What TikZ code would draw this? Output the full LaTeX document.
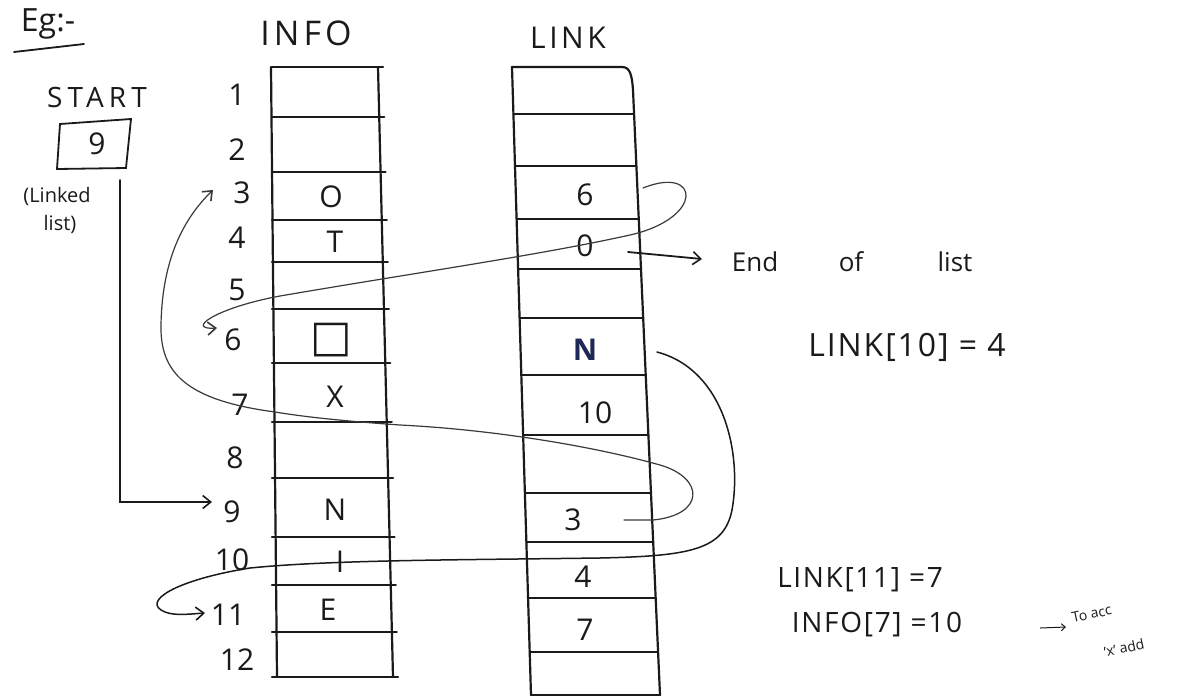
\documentclass[tikz,border=0pt]{standalone}
\usepackage{fontspec}
\setmainfont{Open Sans}
\newfontfamily\symfont{DejaVu Sans}
\usetikzlibrary{arrows.meta}
\definecolor{ink}{HTML}{1A1A1A}
\definecolor{pencil}{HTML}{3A3A3A}
\definecolor{blueink}{HTML}{1E2A55}
\begin{document}
\begin{tikzpicture}[x=1pt,y=-1pt,
  tbl/.style={line width=2.2pt, draw=ink, line cap=round},
  pen/.style={line width=1.8pt, draw=ink, line cap=round},
  thin/.style={line width=1.2pt, draw=pencil, line cap=round},
  barb/.style={-{Straight Barb[length=8pt,width=13pt,line width=1.6pt]}},
  idx/.style={font=\fontsize{30}{30}\selectfont, text=ink, inner sep=0pt},
  val/.style={font=\fontsize{30}{30}\selectfont, text=ink, inner sep=0pt},
  head/.style={font=\fontsize{34}{34}\selectfont\addfontfeature{LetterSpace=12}, text=ink, inner sep=0pt},
  note/.style={font=\fontsize{32}{32}\selectfont\addfontfeature{LetterSpace=6}, text=ink, inner sep=0pt},
  small/.style={font=\fontsize{26}{26}\selectfont, text=ink, inner sep=0pt},
  tiny/.style={font=\fontsize{14}{14}\selectfont, text=ink, inner sep=0pt}]
\useasboundingbox (0,0) rectangle (1184,697);
\fill[white] (0,0) rectangle (1184,697);

% ---- headings
\node[font=\fontsize{32}{32}\selectfont, text=ink, inner sep=0pt] (eg) at (48,24) {Eg:-};
\draw[pen] (14,52) -- (84,44);
\node[head] (infohead) at (306,33) {INFO};
\node[head, font=\fontsize{30}{30}\selectfont\addfontfeature{LetterSpace=12}] (linkhead) at (568,38) {LINK};

% ---- START box
\node[font=\fontsize{28}{28}\selectfont\addfontfeature{LetterSpace=18}, text=ink, inner sep=0pt] (start) at (97,97) {START};
\draw[pen] (60,124) -- (131,119) -- (126,168) -- (57,169) -- cycle;
\node[val] (startval) at (97,144) {9};
\node[font=\fontsize{20}{20}\selectfont, text=ink, inner sep=0pt] (ll1) at (57,196) {(Linked};
\node[font=\fontsize{20}{20}\selectfont, text=ink, inner sep=0pt] (ll2) at (60,224) {list)};

% ---- INFO table
\draw[tbl] (271,67) -- (277,677);
\draw[tbl] (378,67) -- (393,677);
\foreach \y in {67,117,172,220,262,309,363,422,478,537,585,632,677}
  \draw[tbl] (272,\y) -- ({380+15*(\y-67)/610+3},\y);

% ---- LINK table
\draw[tbl] (512,67) -- (531,695);
\draw[tbl] (512,67) -- (622,67) .. controls (630,67) and (632,75) .. (633,90) -- (660,695);
\foreach \y in {114,166,219,269,318,375,435,493,542,598,652,695}
  \draw[tbl] ({512+19*(\y-67)/628},\y) -- ({633+27*(\y-90)/605},\y);

% ---- index numbers
\node[idx] (i1) at (237,95) {1};
\node[idx] (i2) at (237,150) {2};
\node[idx] (i3) at (242,193) {3};
\node[idx] (i4) at (237,238) {4};
\node[idx] (i5) at (237,290) {5};
\node[idx] (i6) at (233,340) {6};
\node[idx] (i7) at (240,405) {7};
\node[idx] (i8) at (235,458) {8};
\node[idx] (i9) at (232,512) {9};
\node[idx] (i10) at (232,560) {10};
\node[idx] (i11) at (228,615) {11};
\node[idx] (i12) at (237,660) {12};

% ---- INFO values
\node[val] (v3) at (331,197) {O};
\node[val] (v4) at (335,242) {T};
\node[val, font=\fontsize{44}{44}\selectfont\symfont] (v6) at (331,340) {□};
\node[val] (v7) at (335,397) {X};
\node[val] (v9) at (335,510) {N};
\node[val] (v10) at (340,562) {I};
\node[val] (v11) at (328,610) {E};

% ---- LINK values
\node[val] (l3) at (585,195) {6};
\node[val] (l4) at (585,246) {0};
\node[val, font=\fontsize{30}{30}\selectfont\bfseries, text=blueink] (l6) at (585,350) {N};
\node[val] (l7) at (595,413) {10};
\node[val] (l9) at (573,520) {3};
\node[val] (l10) at (583,577) {4};
\node[val] (l11) at (585,630) {7};

% ---- START arrow
\coordinate (sl) at (120,180);
\coordinate (s9) at (212,502);
\draw[pen, barb] (sl) |- (s9);

% ---- End of list
\coordinate (e0) at (628,252);
\coordinate (e1) at (702,259);
\draw[pen, barb] (e0) -- (e1);
\node[small] (end) at (755,262) {End};
\node[small] (of) at (851,262) {of};
\node[small] (list) at (955,262) {list};

% ---- link 6 (row 3 -> 6)
\coordinate (c1s) at (643,188);
\coordinate (c1e) at (217,328);
\draw[thin, barb] (c1s) .. controls (700,165) and (705,218) .. (630,235)
   .. controls (540,255) and (420,272) .. (280,296)
   .. controls (215,308) and (185,330) .. (c1e);

% ---- link 11 (row 6 -> 11)
\coordinate (c2s) at (657,352);
\coordinate (c2e) at (205,613);
\draw[pen, line width=1.5pt, barb] (c2s) .. controls (725,370) and (742,455) .. (732,510)
   .. controls (724,550) and (690,556) .. (600,558)
   .. controls (450,560) and (330,560) .. (250,568)
   .. controls (175,580) and (140,602) .. (165,612)
   .. controls (175,616) and (190,614) .. (c2e);

% ---- link 3 (row 9 -> 3)
\coordinate (c3s) at (624,520);
\coordinate (c3e) at (213,190);
\draw[thin, barb] (c3s) -- (653,520) .. controls (705,515) and (705,478) .. (660,465)
   .. controls (600,448) and (500,430) .. (400,425)
   .. controls (330,420) and (300,416) .. (275,412)
   .. controls (185,400) and (160,372) .. (161,325)
   .. controls (162,265) and (180,222) .. (c3e);

% ---- notes
\node[note] (n1) at (907,347) {LINK[10] = 4};
\node[note, font=\fontsize{28}{28}\selectfont\addfontfeature{LetterSpace=6}] (n2) at (860,580) {LINK[11] =7};
\node[note, font=\fontsize{28}{28}\selectfont\addfontfeature{LetterSpace=6}] (n3) at (877,625) {INFO[7] =10};
\coordinate (a0) at (1040,628);
\coordinate (a1) at (1066,627);
\draw[line width=1pt, draw=ink, -{Straight Barb[length=4pt,width=7pt]}] (a0) -- (a1);
\node[tiny, rotate=12, anchor=west] (t1) at (1072,618) {To acc};
\node[tiny, rotate=12, anchor=west] (t2) at (1104,652) {'x' add};
\end{tikzpicture}
\end{document}
